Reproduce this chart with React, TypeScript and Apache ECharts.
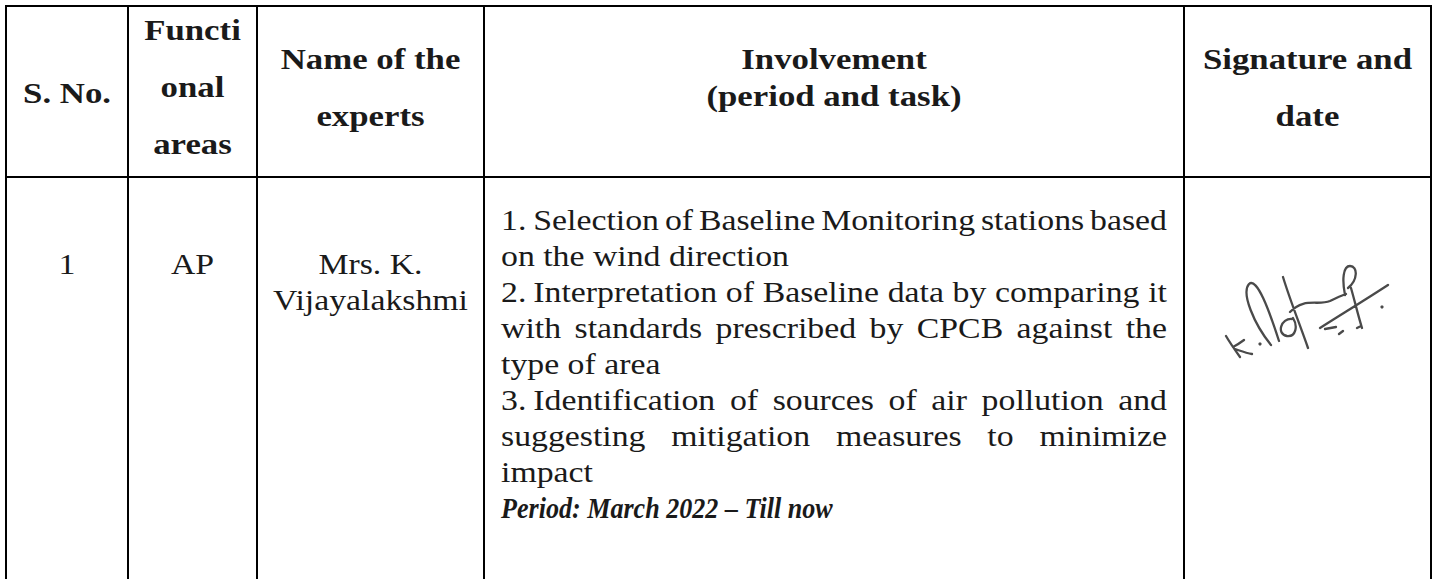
import React, { useEffect, useRef } from "react";
import * as echarts from "echarts";

// ---------- table content ----------
const headerTexts: string[][] = [
  ["S. No."],
  ["Functi", "onal", "areas"],
  ["Name of the", "experts"],
  ["Involvement", "(period and task)"],
  ["Signature and", "date"],
];
const serialNumbers = ["1"];
const functionalAreas = ["AP"];
const expertNames: string[][] = [["Mrs. K.", "Vijayalakshmi"]];
const involvementLines: { text: string; justify: boolean }[] = [
  { text: "1. Selection of Baseline Monitoring stations based", justify: true },
  { text: "on the wind direction", justify: false },
  { text: "2. Interpretation of Baseline data by comparing it", justify: true },
  { text: "with standards prescribed by CPCB against the", justify: true },
  { text: "type of area", justify: false },
  { text: "3. Identification of sources of air pollution and", justify: true },
  { text: "suggesting mitigation measures to minimize", justify: true },
  { text: "impact", justify: false },
];
const periodText = "Period: March 2022 – Till now";

// signature strokes (hand-drawn scribble)
const signaturePath =
  "M46,136 C50,143 55,150 60,157 M53,147 C57,145 60,143 64,140 M55,149 C61,151 66,153 72,154 " +
  "M91,145 C74,124 61,93 69,84 C77,77 89,110 99,141 " +
  "M103,77 C110,100 120,125 128,148 " +
  "M112,119 C101,118 96,134 107,136 C116,137 118,126 113,118 " +
  "M110,112 C124,97 138,106 150,101 C156,98 160,96 166,94 " +
  "M165,95 C162,80 163,66 170,66 C178,66 178,80 168,88 M171,88 C175,102 178,115 182,128 " +
  "M140,128 C162,114 185,100 208,85 " +
  "M145,129 L156,127 M159,134 L163,131 M177,128 L181,126";
const signatureDots: [number, number][] = [
  [80, 144],
  [202, 107],
];

// ---------- layout ----------
const W = 1437;
const H = 579;
const colX = [6, 128, 257, 484, 1184, 1431];
const topY = 6;
const headerBottomY = 177;
const headerLineY: number[][] = [[93], [30, 87, 144], [59, 116], [59, 96], [59, 116]];
const bodyRowY = 264;
const bodyLineGap = 36;
const invLeft = 501;
const invRight = 1167;
const invFirstY = 220;
const FONT = "'Liberation Serif', serif";
const BODY_SIZE = 29;
const HEAD_SIZE = 29;
const INK = "#1a1a1a";

const ctx = document.createElement("canvas").getContext("2d") as CanvasRenderingContext2D;
function measure(text: string, size: number, weight = "normal", style = "normal") {
  ctx.font = `${style} ${weight} ${size}px ${FONT}`;
  return ctx.measureText(text).width;
}

function txt(
  text: string,
  x: number,
  y: number,
  opts: { align?: string; weight?: string; style?: string; size?: number; scaleX?: number } = {}
) {
  return {
    type: "text",
    x,
    y,
    scaleX: opts.scaleX ?? 1,
    silent: true,
    style: {
      text,
      x: 0,
      y: 0,
      fill: INK,
      fontFamily: FONT,
      fontSize: opts.size ?? BODY_SIZE,
      fontWeight: opts.weight ?? "normal",
      fontStyle: opts.style ?? "normal",
      align: opts.align ?? "left",
      verticalAlign: "middle",
    },
  };
}

function buildElements() {
  const els: any[] = [];
  const bodyScale = 288 / measure("on the wind direction", BODY_SIZE);
  const headScale = 88 / measure("S. No.", HEAD_SIZE, "bold");
  const b = { scaleX: bodyScale };

  // borders
  const line = (x1: number, y1: number, x2: number, y2: number) => ({
    type: "line",
    silent: true,
    shape: { x1, y1, x2, y2 },
    style: { stroke: "#000", lineWidth: 2 },
  });
  els.push(line(colX[0] - 1, topY, colX[colX.length - 1] + 1, topY));
  els.push(line(colX[0] - 1, headerBottomY, colX[colX.length - 1] + 1, headerBottomY));
  colX.forEach((x) => els.push(line(x, topY - 1, x, H)));

  // headers
  headerTexts.forEach((lines, ci) => {
    const cx = (colX[ci] + colX[ci + 1]) / 2;
    lines.forEach((t, li) => {
      els.push(
        txt(t, cx, headerLineY[ci][li], {
          align: "center",
          weight: "bold",
          size: HEAD_SIZE,
          scaleX: headScale,
        })
      );
    });
  });

  // body: serial, area, name
  serialNumbers.forEach((s) =>
    els.push(txt(s, (colX[0] + colX[1]) / 2, bodyRowY, { align: "center", ...b }))
  );
  functionalAreas.forEach((s) =>
    els.push(txt(s, (colX[1] + colX[2]) / 2, bodyRowY, { align: "center", ...b }))
  );
  expertNames.forEach((lines) =>
    lines.forEach((s, i) =>
      els.push(
        txt(s, (colX[2] + colX[3]) / 2, bodyRowY + i * bodyLineGap, { align: "center", ...b })
      )
    )
  );

  // involvement (justified)
  involvementLines.forEach((ln, i) => {
    const y = invFirstY + i * bodyLineGap;
    if (!ln.justify) {
      els.push(txt(ln.text, invLeft, y, b));
      return;
    }
    let words = ln.text.split(" ");
    let left = invLeft;
    if (/^\d+\.$/.test(words[0])) {
      els.push(txt(words[0], left, y, b));
      left += measure(words[0], BODY_SIZE) * bodyScale + 7;
      words = words.slice(1);
    }
    const widths = words.map((w) => measure(w, BODY_SIZE) * bodyScale);
    const total = widths.reduce((a, c) => a + c, 0);
    const gap = words.length > 1 ? (invRight - left - total) / (words.length - 1) : 0;
    let x = left;
    words.forEach((w, k) => {
      els.push(txt(w, x, y, b));
      x += widths[k] + gap;
    });
  });
  const periodY = invFirstY + involvementLines.length * bodyLineGap;
  const pw = measure(periodText, BODY_SIZE, "bold", "italic");
  els.push(
    txt(periodText, invLeft, periodY, {
      weight: "bold",
      style: "italic",
      scaleX: 332 / pw,
    })
  );

  // signature
  echarts.graphic.registerShape("signature", (echarts.graphic as any).extendPath(signaturePath, {}));
  els.push({
    type: "signature",
    x: 1180,
    y: 200,
    silent: true,
    style: { stroke: "#4a4a4a", fill: "none", lineWidth: 2.3, lineCap: "round", lineJoin: "round" },
  });
  signatureDots.forEach(([dx, dy]) =>
    els.push({
      type: "circle",
      x: 1180,
      y: 200,
      silent: true,
      shape: { cx: dx, cy: dy, r: 1.6 },
      style: { fill: "#4a4a4a" },
    })
  );
  return els;
}

export default function App() {
  const ref = useRef<HTMLDivElement>(null);
  useEffect(() => {
    document.body.style.margin = "0";
    const chart = echarts.init(ref.current as HTMLDivElement, undefined, { renderer: "svg" });
    chart.setOption({
      animation: false,
      backgroundColor: "#ffffff",
      graphic: { elements: buildElements() },
    });
    return () => chart.dispose();
  }, []);
  return <div ref={ref} style={{ width: W, height: H }} />;
}
